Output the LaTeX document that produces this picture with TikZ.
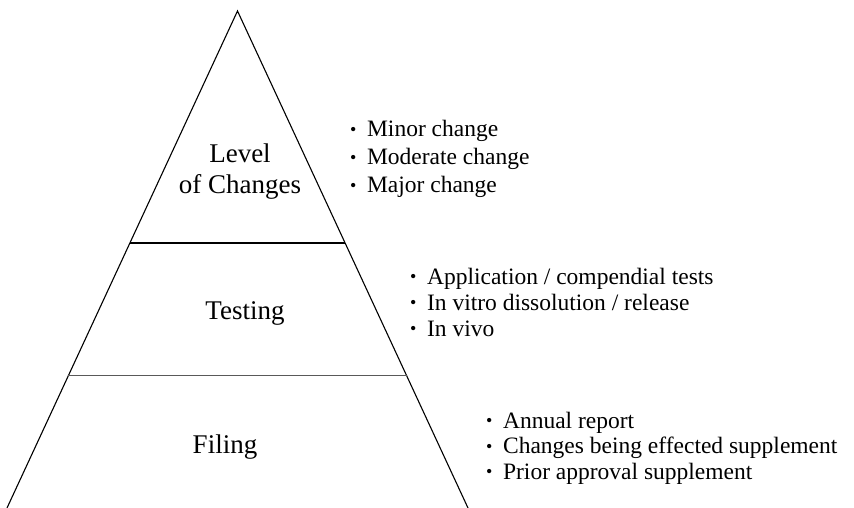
\documentclass[tikz,border=0pt]{standalone}
\usepackage{fontspec}
\setmainfont{Liberation Serif}
\usetikzlibrary{calc,positioning}
\newcommand{\bitem}[1]{\raisebox{1.5pt}{\fontsize{18}{18}\selectfont •}\hspace{0.45em}#1}

\begin{document}
\begin{tikzpicture}[
  x=1pt, y=1pt,
  side/.style={draw=black, line width=1.1pt},
  tier label/.style={draw=none, align=center, inner sep=0pt, font=\fontsize{27}{31}\selectfont},
  bullet list/.style={draw=none, align=left, anchor=west, inner sep=0pt, font=\fontsize{23.5}{27}\selectfont}
]
  \useasboundingbox (0,0) rectangle (854,508);
  % triangle corners (open at the bottom edge)
  \coordinate (apex) at (237.5, 497);
  \coordinate (botL) at (7, 0);
  \coordinate (botR) at (468, 0);
  \coordinate (upL) at ($(apex)!0.467!(botL)$);
  \coordinate (upR) at ($(apex)!0.467!(botR)$);
  \coordinate (lowL) at ($(apex)!0.734!(botL)$);
  \coordinate (lowR) at ($(apex)!0.734!(botR)$);
  \draw[side] (botL) -- (apex) -- (botR);
  \draw[line width=2pt] (upL) -- (upR);
  \draw[line width=1.3pt, black!65] (lowL) -- (lowR);
  % tier labels
  \node[tier label] (level) at (240, 336) {Level\\of Changes};
  \node[tier label] (testing) at (245, 195) {Testing};
  \node[tier label] (filing) at (225, 61) {Filing};
  % bullet lists
  \node[bullet list, font=\fontsize{23.5}{28}\selectfont] (changes) at (350, 349) {\bitem{Minor change}\\\bitem{Moderate change}\\\bitem{Major change}};
  \node[bullet list, font=\fontsize{23.5}{26}\selectfont] (tests) at (410, 206) {\bitem{Application / compendial tests}\\\bitem{In vitro dissolution / release}\\\bitem{In vivo}};
  \node[bullet list, font=\fontsize{23.5}{25.5}\selectfont] (filings) at (486, 60) {\bitem{Annual report}\\\bitem{Changes being effected supplement}\\\bitem{Prior approval supplement}};
\end{tikzpicture}
\end{document}
